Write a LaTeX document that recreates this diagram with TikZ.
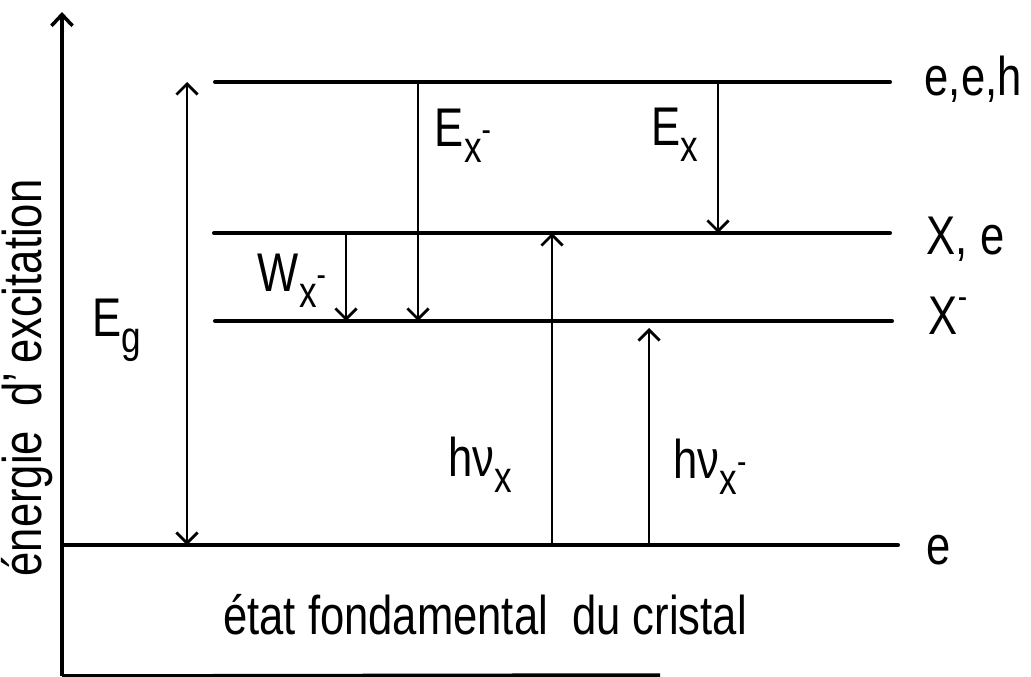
\documentclass[tikz,border=0pt]{standalone}
\usepackage{fontspec}
\setmainfont[FakeStretch=0.8]{Liberation Sans}
\usetikzlibrary{arrows.meta,positioning}
\newcommand{\lowsub}[1]{\raisebox{-0.55ex}{\fontsize{12.5}{14}\selectfont #1}}
\newcommand{\negsup}{\raisebox{0.9ex}{\fontsize{10}{12}\selectfont -}}

\begin{document}
\begin{tikzpicture}[
  x=0.01cm, y=-0.01cm,
  every node/.style={font=\fontsize{15.5}{18}\selectfont, inner sep=0pt},
  level/.style={line width=1.15pt, line cap=round},
  axis/.style={line width=1pt, -{Straight Barb[length=3.2pt, width=6pt]}},
  trans/.style={line width=0.8pt, -{Straight Barb[length=3pt, width=6pt]}},
  gap/.style={trans, {Straight Barb[length=3pt, width=6pt]}-{Straight Barb[length=3pt, width=6pt]}},
  lvllab/.style={anchor=west},
]
  \useasboundingbox (0,0) rectangle (1031,676);

  % energy axis
  \coordinate (orig) at (62,676);
  \coordinate (top)  at (62,12);
  \coordinate (base) at (660,675);
  \draw[axis] (orig) -- (top);
  \draw[line width=1pt] (orig) -- (base);
  \node[rotate=90] (axlab) at (27,378) {énergie\ \ d'\,excitation};

  % levels
  \coordinate (eeh) at (215,82);
  \coordinate (Xe)  at (214,233);
  \coordinate (Xm)  at (215,321);
  \coordinate (gnd) at (62,545);
  \draw[level] (eeh) -- (890,82)  coordinate (eehR);
  \draw[level] (Xe)  -- (890,233) coordinate (XeR);
  \draw[level] (Xm)  -- (892,321) coordinate (XmR);
  \draw[level] (gnd) -- (898,545) coordinate (gndR);
  \node[lvllab] (eehlab) at (924,79)  {e,e,h};
  \node[lvllab] (Xelab)  at (926,239) {X, e};
  \node[lvllab] (Xmlab)  at (928,316) {X\negsup};
  \node[lvllab] (gndlab) at (926,550) {e};
  \node (fond) at (485,615) {état fondamental\ \ du cristal};

  % transition columns
  \coordinate (cEg) at (187,0);
  \coordinate (cW)  at (346,0);
  \coordinate (cEm) at (418,0);
  \coordinate (cHx) at (552,0);
  \coordinate (cHm) at (649,0);
  \coordinate (cEx) at (718,0);

  \draw[gap]   (cEg |- gnd) -- (cEg |- eeh);
  \draw[trans] (cEm |- eeh) -- (cEm |- Xm);
  \draw[trans] (cEx |- eeh) -- (cEx |- Xe);
  \draw[trans] (cW |- Xe)   -- (cW |- Xm);
  \draw[trans] (cHx |- gnd) -- (cHx |- Xe);
  \draw[trans] (cHm |- gnd) -- ([yshift=-0.07cm]cHm |- Xm);

  % labels
  \node (Eg)  at (117,330) {E\lowsub{g}};
  \node (Em)  at (463,136) {E\lowsub{x\negsup}};
  \node (Ex)  at (675,135) {E\lowsub{x}};
  \node (W)   at (292,281) {W\lowsub{x\negsup}};
  \node (hx)  at (480,465) {hν\lowsub{x}};
  \node (hm)  at (710,467) {hν\lowsub{x\negsup}};
\end{tikzpicture}
\end{document}
